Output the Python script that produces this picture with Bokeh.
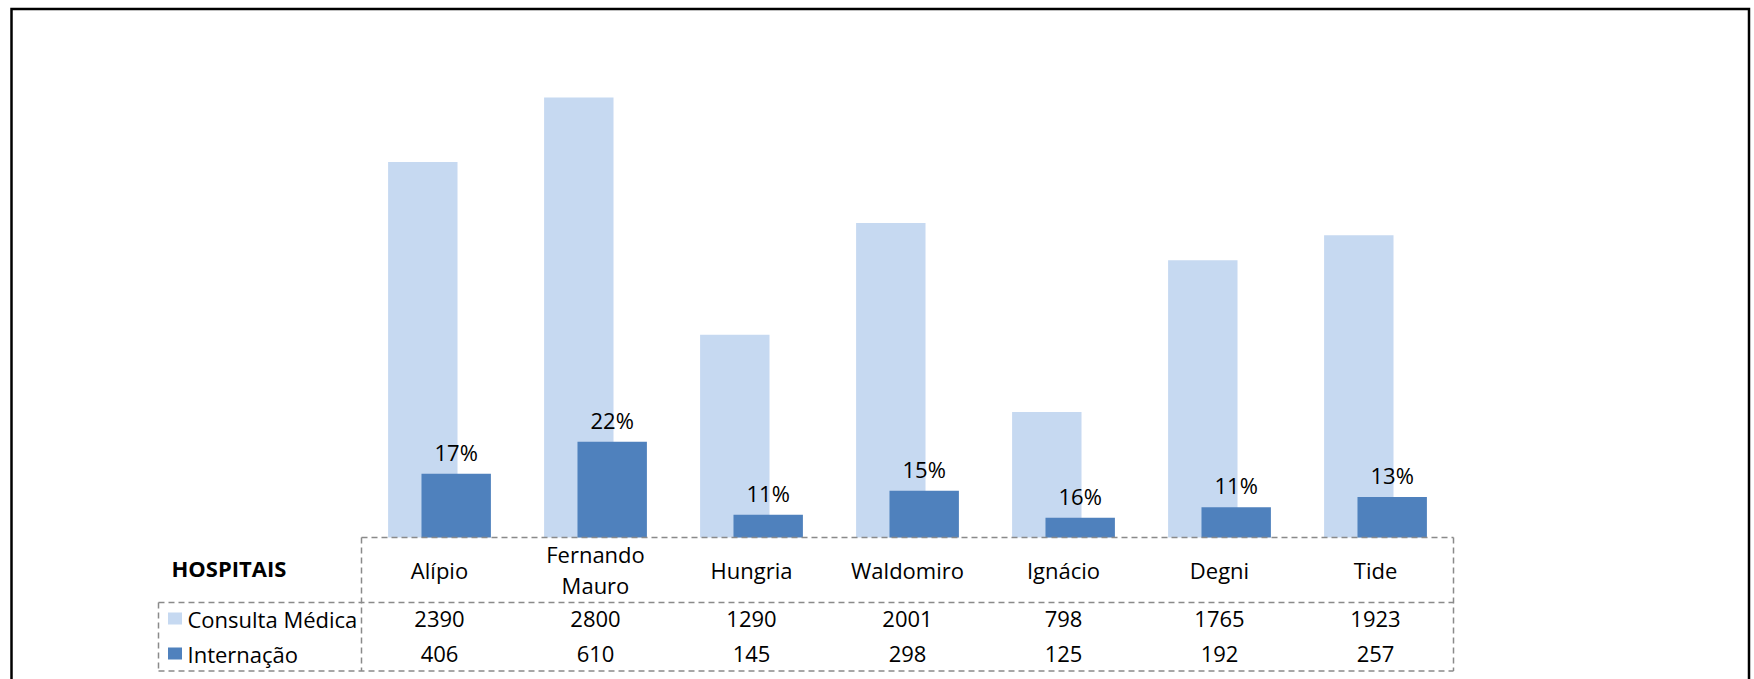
from bokeh.plotting import figure
from bokeh.models import Range1d, ColumnDataSource
from bokeh.transform import dodge
from bokeh.core.properties import value
from bokeh.embed import file_html
from bokeh.resources import INLINE

# ---------------- data ----------------
hospitals = ["Alípio", "Fernando\nMauro", "Hungria", "Waldomiro", "Ignácio", "Degni", "Tide"]
consulta = [2390, 2800, 1290, 2001, 798, 1765, 1923]
internacao = [406, 610, 145, 298, 125, 192, 257]
pct_labels = ["17%", "22%", "11%", "15%", "16%", "11%", "13%"]
series_names = ["Consulta Médica", "Internação"]
table_title = "HOSPITAIS"

# ---------------- style ----------------
LIGHT = "#C6D9F1"
DARK = "#4F81BD"
GRID = "#8A8A8A"
FONT = value("Open Sans")
FS = "22px"

W, H = 1754, 679
PAGE_X0, PAGE_Y0 = 0, 0
CAT_PX = 156.0          # pixels per category
X_ORIGIN = 361.0        # page x of the table's left edge
Y_BASE = 537.0          # page y of the value axis zero
PX_PER_UNIT = 440.0 / 2800.0


def dx(page_x):
    return (page_x - X_ORIGIN) / CAT_PX


def dy(page_y):
    return (Y_BASE - page_y) / PX_PER_UNIT


n = len(hospitals)
xc = [i + 0.5 for i in range(n)]

src = ColumnDataSource(dict(x=xc, name=hospitals, c=consulta, i=internacao,
                            pct=pct_labels,
                            cs=[str(v) for v in consulta],
                            its=[str(v) for v in internacao]))

p = figure(width=W, height=H, output_backend="svg", toolbar_location=None,
           x_range=Range1d(dx(PAGE_X0), dx(PAGE_X0 + W)),
           y_range=Range1d(dy(PAGE_Y0 + H), dy(PAGE_Y0)),
           x_axis_location=None, y_axis_location=None,
           min_border=0, outline_line_color=None, background_fill_color="white",
           border_fill_color="white")
p.grid.visible = False

# outer border (left, top, right)
p.line(x=[dx(11), dx(11), dx(1748.5), dx(1748.5)],
       y=[dy(720), dy(8.5), dy(8.5), dy(720)],
       line_color="black", line_width=2.5, line_join="miter")

# bars
p.vbar(x=dodge("x", -0.107, range=p.x_range), top="c", width=0.445, bottom=0,
       source=src, fill_color=LIGHT, line_color=None)
p.vbar(x=dodge("x", 0.107, range=p.x_range), top="i", width=0.445, bottom=0,
       source=src, fill_color=DARK, line_color=None)

# percentage labels above the dark bars
p.text(x=dodge("x", 0.107, range=p.x_range), y="i", text="pct", source=src,
       text_align="center", text_baseline="alphabetic", y_offset=-22,
       text_font=FONT, text_font_size=FS, text_color="black")

# data table lines
x_tab0, x_tab1 = 0, n
y_top = 0
y_mid = dy(602)
y_bot = dy(670.5)
x_leg = dx(158)
p.segment(x0=[x_tab0, x_tab0, x_tab1, x_leg, x_leg, x_leg],
          y0=[y_top, y_top, y_top, y_mid, y_bot, y_mid],
          x1=[x_tab1, x_tab0, x_tab1, x_tab1, x_tab1, x_leg],
          y1=[y_top, y_bot, y_bot, y_mid, y_bot, y_bot],
          line_color=GRID, line_width=1.5, line_dash="6 4")

# category names
p.text(x="x", y=dy(569), text="name", source=src, text_align="center",
       text_baseline="middle", text_font=FONT, text_font_size=FS,
       text_line_height=1.05, text_color="black")

# title cell
p.text(x=[dx(171)], y=[dy(567)], text=[table_title], text_align="left",
       text_baseline="middle", text_font=FONT, text_font_size=FS,
       text_font_style="bold", text_color="black")

# legend keys + row names
row_y = [dy(618), dy(653)]
p.rect(x=[dx(174.5), dx(174.5)], y=row_y, width=14, height=12,
       width_units="screen", height_units="screen",
       fill_color=[LIGHT, DARK], line_color=None)
p.text(x=[dx(187), dx(187)], y=row_y, text=series_names, text_align="left",
       text_baseline="middle", text_font=FONT, text_font_size=FS, text_color="black")

# table values
p.text(x="x", y=row_y[0], text="cs", source=src, text_align="center",
       text_baseline="middle", text_font=FONT, text_font_size=FS, text_color="black")
p.text(x="x", y=row_y[1], text="its", source=src, text_align="center",
       text_baseline="middle", text_font=FONT, text_font_size=FS, text_color="black")

open("out.html", "w").write(file_html(p, INLINE))
